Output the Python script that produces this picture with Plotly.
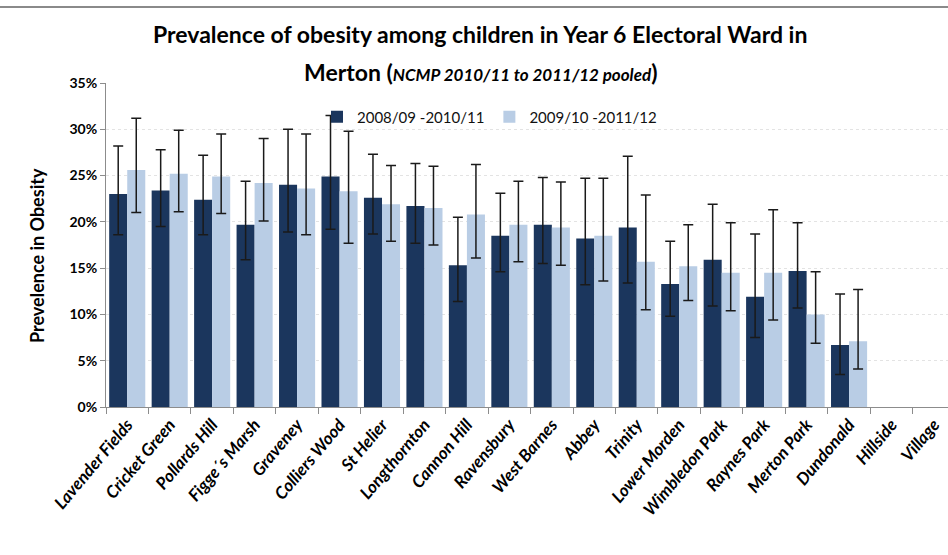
import plotly.graph_objects as go

wards = ["Lavender Fields", "Cricket Green", "Pollards Hill", "Figge\u00b4s Marsh", "Graveney",
         "Colliers Wood", "St Helier", "Longthornton", "Cannon Hill", "Ravensbury",
         "West Barnes", "Abbey", "Trinity", "Lower Morden", "Wimbledon Park",
         "Raynes Park", "Merton Park", "Dundonald", "Hillside", "Village"]

series1_name = "2008/09 -2010/11"
series1 = [23.0, 23.4, 22.4, 19.7, 24.0, 24.9, 22.6, 21.7, 15.3, 18.5,
           19.7, 18.2, 19.4, 13.3, 15.9, 11.9, 14.7, 6.7, None, None]
series1_upper = [28.2, 27.8, 27.2, 24.4, 30.0, 31.5, 27.3, 26.3, 20.5, 23.1,
                 24.8, 24.7, 27.1, 17.9, 21.9, 18.7, 19.9, 12.2, None, None]
series1_lower = [18.6, 19.5, 18.6, 15.9, 18.9, 19.2, 18.7, 17.7, 11.4, 14.6,
                 15.5, 13.2, 13.4, 9.8, 10.9, 7.5, 10.7, 3.5, None, None]

series2_name = "2009/10 -2011/12"
series2 = [25.6, 25.2, 24.9, 24.2, 23.6, 23.3, 21.9, 21.5, 20.8, 19.7,
           19.4, 18.5, 15.7, 15.2, 14.5, 14.5, 10.0, 7.1, None, None]
series2_upper = [31.2, 29.9, 29.5, 29.0, 29.5, 29.8, 26.1, 26.0, 26.2, 24.4,
                 24.3, 24.7, 22.9, 19.7, 19.9, 21.3, 14.6, 12.7, None, None]
series2_lower = [21.0, 21.1, 20.9, 20.1, 18.6, 17.7, 17.9, 17.5, 16.1, 15.7,
                 15.3, 13.6, 10.5, 11.5, 10.4, 9.4, 6.9, 4.1, None, None]

y_ticks = [0, 5, 10, 15, 20, 25, 30, 35]


def plus(vals, up):
    return [None if v is None else round(u - v, 3) for v, u in zip(vals, up)]


def minus(vals, lo):
    return [None if v is None else round(v - l, 3) for v, l in zip(vals, lo)]


FONT = "Lato"

fig = go.Figure()
fig.add_trace(go.Bar(
    x=wards, y=series1, name=series1_name,
    marker=dict(color="#1B365D", line=dict(width=0)),
    error_y=dict(type="data", symmetric=False,
                 array=plus(series1, series1_upper),
                 arrayminus=minus(series1, series1_lower),
                 color="#1a1a1a", thickness=1.5, width=5),
))
fig.add_trace(go.Bar(
    x=wards, y=series2, name=series2_name,
    marker=dict(color="#B9CDE5", line=dict(width=0)),
    error_y=dict(type="data", symmetric=False,
                 array=plus(series2, series2_upper),
                 arrayminus=minus(series2, series2_lower),
                 color="#1a1a1a", thickness=1.5, width=5),
))

L, R, T, B = 106, 0, 83, 148
W, H = 948, 555
PW = W - L - R
PH = H - T - B


def px_x(x):
    return (x - L) / PW


def px_y(y):
    return (H - B - y) / PH


fig.update_layout(
    width=W, height=H,
    margin=dict(l=L, r=R, t=T, b=B, autoexpand=False),
    paper_bgcolor="white", plot_bgcolor="white",
    barmode="group", bargap=0.15, bargroupgap=0,
    font=dict(family=FONT, color="#000000"),
    showlegend=True,
    legend=dict(orientation="h", x=px_x(317), xanchor="left",
                y=px_y(117), yanchor="middle",
                font=dict(family=FONT, size=15, color="#111111"),
                bgcolor="rgba(0,0,0,0)", itemwidth=30, tracegroupgap=0),
    xaxis=dict(
        range=[-0.5, 19.33], type="category",
        showline=True, linecolor="#8c8c8c", linewidth=1,
        ticks="outside", tickson="boundaries", ticklen=6, tickcolor="#8c8c8c",
        tickangle=-50,
        tickfont=dict(family=FONT, size=17, weight="bold", style="italic", color="#000000"),
        showgrid=False, zeroline=False,
    ),
    yaxis=dict(
        range=[0, 35], tickvals=y_ticks, ticktext=[f"{v}%" for v in y_ticks],
        showline=True, linecolor="#8c8c8c", linewidth=1,
        ticks="outside", ticklen=5, tickcolor="#8c8c8c",
        tickfont=dict(family=FONT, size=14, weight="bold", color="#000000"),
        showgrid=True, gridcolor="#e3e3e3", griddash="dot", gridwidth=1,
        zeroline=False,
    ),
    annotations=[
        dict(text="<b>Prevalence of obesity among children in Year 6 Electoral Ward in</b>",
             x=px_x(480), y=px_y(34), xref="paper", yref="paper",
             xanchor="center", yanchor="middle", showarrow=False,
             font=dict(family=FONT, size=23, color="#000000")),
        dict(text="<b>Merton (</b><span style='font-size:17px'><b><i>NCMP 2010/11 to 2011/12 pooled</i></b></span><b>)</b>",
             x=px_x(480), y=px_y(72), xref="paper", yref="paper",
             xanchor="center", yanchor="middle", showarrow=False,
             font=dict(family=FONT, size=23, color="#000000")),
        dict(text="<b>Prevelence in Obesity</b>",
             x=px_x(37), y=px_y(256), xref="paper", yref="paper",
             xanchor="center", yanchor="middle", showarrow=False, textangle=-90,
             font=dict(family=FONT, size=18, color="#000000")),
    ],
    shapes=[
        dict(type="line", xref="paper", yref="paper",
             x0=px_x(0), x1=px_x(948), y0=px_y(7), y1=px_y(7),
             line=dict(color="#8a8a8a", width=2)),
    ],
)

fig.write_html("out.html",
               config={"displayModeBar": False},
               post_script="document.body.style.margin='0';document.body.style.overflow='hidden';")
